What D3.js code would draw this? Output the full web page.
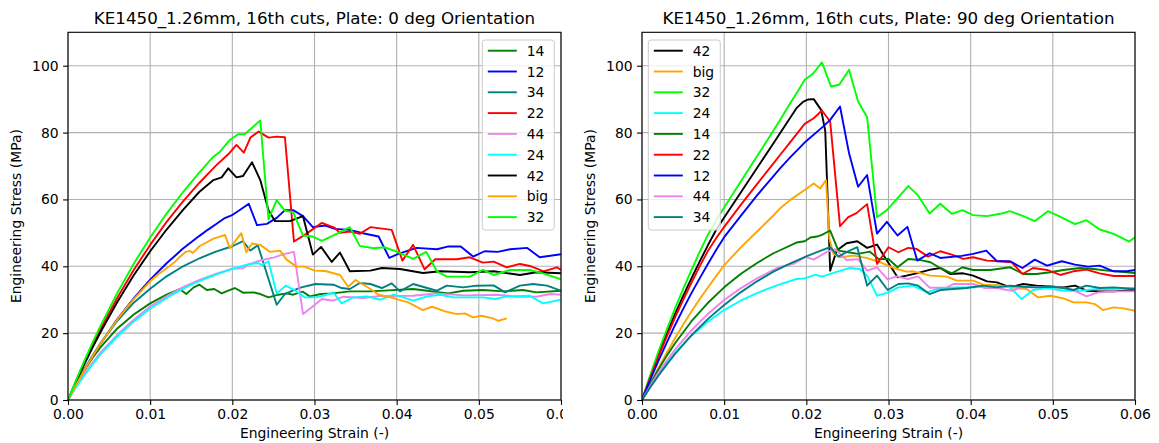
<!DOCTYPE html>
<html><head><meta charset="utf-8">
<script src="https://cdn.jsdelivr.net/npm/d3@7"></script>
<style>
html,body{margin:0;padding:0;background:#fff;}
svg{display:block;font-family:"DejaVu Sans",sans-serif;}
</style></head>
<body><svg id="chart" width="1159" height="443"></svg>
<script>
// ---------- tick values ----------
const strainTicks = [0, 0.01, 0.02, 0.03, 0.04, 0.05, 0.06];
const stressTicks = [0, 20, 40, 60, 80, 100];
const titles = ["KE1450_1.26mm, 16th cuts, Plate: 0 deg Orientation",
                "KE1450_1.26mm, 16th cuts, Plate: 90 deg Orientation"];
const xLabel = "Engineering Strain (-)";
const yLabel = "Engineering Stress (MPa)";

// ---------- LEFT panel (0 deg) series: [strain, stress] ----------
const L14 = [[0,0],[0.001,4.76],[0.002,8.96],[0.003,12.66],[0.004,15.9],[0.006,21.4],[0.008,25.6],[0.010,28.9],[0.012,31.5],[0.0136,33.2],[0.0144,31.7],[0.0153,33.7],[0.016,34.5],[0.0169,32.9],[0.0178,33.2],[0.0187,31.9],[0.0195,32.7],[0.0203,33.5],[0.0213,32.1],[0.0226,32.2],[0.0234,31.7],[0.0244,30.7],[0.0256,31.5],[0.0266,31.9],[0.0274,31.5],[0.0286,32.4],[0.0294,31.0],[0.0308,31.7],[0.0322,31.9],[0.0343,32.5],[0.0368,32.5],[0.039,32.8],[0.042,33.2],[0.0437,32.7],[0.0453,32.2],[0.0463,31.9],[0.0481,32.7],[0.0505,32.9],[0.053,32.5],[0.0554,32.9],[0.057,32.2],[0.06,32.7]];
const L12 = [[0,0],[0.001,4.63],[0.002,9.0],[0.003,13.1],[0.004,17.0],[0.006,24.2],[0.008,30.4],[0.010,36.0],[0.012,40.9],[0.014,45.3],[0.016,49.1],[0.017,50.9],[0.018,52.6],[0.019,54.3],[0.0199,55.2],[0.021,57.0],[0.022,58.7],[0.023,52.3],[0.0242,52.7],[0.0254,54.5],[0.0264,56.8],[0.0274,56.8],[0.0286,55.0],[0.0298,51.7],[0.0313,52.2],[0.0325,51.2],[0.0343,50.9],[0.0359,49.9],[0.0378,48.9],[0.0391,42.5],[0.0402,43.7],[0.0424,45.5],[0.0449,45.1],[0.0462,45.9],[0.0478,45.9],[0.0493,42.9],[0.0507,44.5],[0.0523,44.3],[0.0538,45.1],[0.0559,45.5],[0.0574,42.7],[0.06,43.6]];
const L34 = [[0,0],[0.001,4.85],[0.002,9.27],[0.003,13.3],[0.004,17.1],[0.006,23.7],[0.008,29.1],[0.010,33.3],[0.012,37.0],[0.014,40.0],[0.016,42.4],[0.018,44.4],[0.020,46.0],[0.0213,47.5],[0.0222,44.7],[0.0231,46.3],[0.0254,28.5],[0.0264,31.7],[0.0274,32.8],[0.0284,33.7],[0.0301,34.7],[0.0323,34.5],[0.0333,33.5],[0.0343,33.2],[0.0355,35.0],[0.0368,34.7],[0.0382,33.5],[0.0394,34.9],[0.0404,32.5],[0.042,34.7],[0.0437,33.5],[0.0449,32.7],[0.0461,34.2],[0.0481,33.7],[0.0497,34.2],[0.0518,34.3],[0.0532,32.2],[0.055,34.2],[0.0566,34.7],[0.0583,34.2],[0.06,32.7]];
const L22 = [[0,0],[0.001,5.76],[0.002,11.23],[0.003,16.45],[0.004,21.4],[0.006,30.6],[0.008,38.9],[0.010,46.4],[0.012,53.3],[0.014,59.4],[0.016,65.0],[0.018,70.1],[0.0195,73.5],[0.0205,76.3],[0.0214,74.0],[0.0222,78.5],[0.0232,80.3],[0.0244,78.5],[0.0254,78.8],[0.0264,78.6],[0.0275,47.4],[0.029,49.7],[0.0309,53.0],[0.0324,51.6],[0.0331,50.0],[0.0343,50.4],[0.0355,49.7],[0.0368,51.7],[0.0394,50.9],[0.0407,41.7],[0.042,46.4],[0.0434,39.1],[0.0447,42.1],[0.0473,42.1],[0.0489,42.7],[0.0505,41.1],[0.0518,41.4],[0.0534,39.7],[0.055,40.7],[0.0562,40.1],[0.0579,38.5],[0.0595,39.7],[0.06,38.9]];
const L44 = [[0,0],[0.001,4.08],[0.002,7.8],[0.003,11.2],[0.004,14.3],[0.006,19.5],[0.008,24.0],[0.010,28.0],[0.012,31.0],[0.014,33.8],[0.016,35.9],[0.018,37.7],[0.020,39.3],[0.0213,39.4],[0.022,40.6],[0.0235,41.8],[0.025,42.6],[0.0265,43.8],[0.0275,44.3],[0.0286,25.7],[0.0296,27.6],[0.0309,30.2],[0.0323,29.7],[0.0335,30.9],[0.0359,30.5],[0.038,31.1],[0.042,31.2],[0.0441,31.7],[0.0448,31.9],[0.0481,31.3],[0.0522,31.5],[0.0546,30.9],[0.057,30.9],[0.0587,31.7],[0.06,31.5]];
const L24 = [[0,0],[0.001,3.86],[0.002,7.4],[0.003,10.7],[0.004,13.8],[0.006,19.0],[0.008,23.5],[0.010,27.3],[0.012,30.5],[0.014,33.3],[0.016,35.6],[0.018,37.5],[0.020,39.2],[0.022,40.6],[0.0231,41.0],[0.0236,40.4],[0.0244,41.5],[0.0254,31.9],[0.0265,34.2],[0.0277,32.7],[0.0288,30.7],[0.0301,30.7],[0.0315,31.5],[0.0323,32.2],[0.0333,28.9],[0.0347,30.7],[0.0364,31.0],[0.038,30.0],[0.0396,31.5],[0.0408,30.7],[0.042,29.7],[0.0437,31.0],[0.0453,31.5],[0.0469,30.7],[0.0489,30.7],[0.0505,30.7],[0.052,30.2],[0.0534,31.0],[0.0562,31.2],[0.0578,28.9],[0.06,30.0]];
const L42 = [[0,0],[0.001,5.52],[0.002,10.76],[0.003,15.76],[0.004,20.5],[0.006,29.3],[0.008,37.3],[0.010,44.5],[0.012,51.0],[0.014,56.9],[0.016,62.3],[0.0177,65.8],[0.0187,66.6],[0.0195,69.3],[0.0205,66.6],[0.0213,67.0],[0.0224,71.1],[0.0234,65.8],[0.0244,56.8],[0.0252,53.5],[0.027,53.5],[0.0286,55.0],[0.0298,43.5],[0.0308,45.8],[0.0321,41.3],[0.0331,44.1],[0.0343,38.5],[0.0368,38.7],[0.0382,39.5],[0.0404,39.2],[0.0432,38.0],[0.0453,38.5],[0.0489,38.2],[0.0518,38.5],[0.055,37.4],[0.057,38.2],[0.06,37.9]];
const Lbig = [[0,0],[0.001,4.6],[0.002,9.0],[0.003,13.1],[0.004,17.0],[0.006,24.1],[0.008,30.2],[0.010,35.5],[0.011,37.6],[0.012,39.4],[0.013,41.3],[0.0136,42.8],[0.0143,44.3],[0.0148,44.6],[0.0152,44.0],[0.016,46.0],[0.0169,47.2],[0.0177,48.3],[0.0185,48.9],[0.0191,49.4],[0.0197,45.4],[0.0211,49.9],[0.0217,44.2],[0.0224,46.8],[0.0234,46.4],[0.0246,44.3],[0.0258,44.7],[0.0266,42.0],[0.0278,39.9],[0.0288,39.9],[0.030,38.7],[0.0313,38.6],[0.0331,37.4],[0.0341,33.9],[0.035,35.9],[0.0368,33.2],[0.0378,31.5],[0.0396,30.5],[0.0414,29.2],[0.0432,26.9],[0.0443,27.9],[0.0459,26.5],[0.0473,25.7],[0.0483,25.9],[0.0493,24.7],[0.0503,25.2],[0.0516,24.5],[0.0524,23.7],[0.0534,24.4]];
const L32 = [[0,0],[0.001,6.03],[0.002,11.76],[0.003,17.22],[0.004,22.41],[0.006,32.04],[0.008,40.75],[0.010,48.63],[0.012,55.77],[0.014,62.22],[0.016,68.07],[0.0177,72.8],[0.0185,74.3],[0.0197,77.8],[0.0207,79.5],[0.0215,79.5],[0.0234,83.6],[0.0244,54.0],[0.0254,59.8],[0.0264,56.6],[0.0274,56.2],[0.0286,49.2],[0.0298,48.9],[0.0309,47.6],[0.0322,49.1],[0.0343,51.7],[0.0355,46.1],[0.0372,45.4],[0.0385,45.7],[0.04,44.4],[0.042,42.2],[0.0436,44.3],[0.0449,38.5],[0.0461,36.9],[0.0489,36.9],[0.0505,38.9],[0.0518,37.4],[0.0538,38.9],[0.0562,38.9],[0.0578,37.9],[0.06,36.1]];

// ---------- RIGHT panel (90 deg) series ----------
const R42 = [[0,0],[0.001,7.0],[0.002,13.6],[0.003,19.8],[0.004,25.6],[0.005,31.1],[0.006,36.3],[0.007,41.3],[0.008,46.2],[0.009,50.8],[0.010,54.6],[0.012,62.0],[0.014,69.4],[0.016,76.8],[0.0168,79.8],[0.018,84.3],[0.0188,87.3],[0.0196,89.2],[0.0202,89.9],[0.0209,90.0],[0.0218,86.8],[0.0223,80.5],[0.0226,60.0],[0.0229,38.7],[0.0237,44.7],[0.0249,46.9],[0.0262,47.5],[0.0274,45.5],[0.0286,46.5],[0.0298,41.7],[0.0311,36.7],[0.0322,37.2],[0.0334,37.9],[0.0351,39.0],[0.0363,39.5],[0.0375,37.7],[0.0391,37.9],[0.0403,37.2],[0.042,35.5],[0.0432,35.2],[0.0448,33.7],[0.0464,34.7],[0.048,34.2],[0.0497,34.0],[0.0513,33.7],[0.0527,34.2],[0.0541,32.7],[0.0557,32.5],[0.0574,32.5],[0.06,33.0]];
const Rbig = [[0,0],[0.001,4.9],[0.002,9.6],[0.003,14.1],[0.004,18.4],[0.005,22.5],[0.006,26.4],[0.007,30.1],[0.008,33.6],[0.009,37.0],[0.010,40.3],[0.012,45.6],[0.014,50.4],[0.016,55.2],[0.0168,57.3],[0.018,59.8],[0.0198,62.8],[0.0209,64.8],[0.0217,63.3],[0.0224,65.8],[0.0228,48.3],[0.0233,43.7],[0.0241,42.7],[0.0257,43.2],[0.0273,42.5],[0.029,41.2],[0.0306,39.5],[0.0322,38.4],[0.033,38.5],[0.0351,37.2],[0.0371,36.9],[0.0383,35.7],[0.0403,35.7],[0.0415,34.5],[0.0432,34.4],[0.0448,33.7],[0.0468,33.2],[0.0482,30.7],[0.0497,31.2],[0.0513,30.4],[0.0525,29.2],[0.0541,29.2],[0.0551,28.7],[0.0561,26.9],[0.0574,27.7],[0.0586,27.4],[0.06,26.7]];
const R32 = [[0,0],[0.001,7.5],[0.002,14.5],[0.003,21.0],[0.004,27.3],[0.005,33.2],[0.006,38.8],[0.007,44.2],[0.008,49.3],[0.009,53.7],[0.010,57.6],[0.012,65.3],[0.014,72.9],[0.016,80.6],[0.0168,83.8],[0.018,88.6],[0.019,92.5],[0.0198,95.8],[0.0208,97.6],[0.0219,101.0],[0.023,93.8],[0.024,94.3],[0.0252,98.8],[0.0263,89.3],[0.0274,84.6],[0.0286,54.7],[0.0298,56.8],[0.031,60.1],[0.0324,64.0],[0.0336,61.2],[0.035,55.8],[0.0363,58.7],[0.0377,55.7],[0.039,56.8],[0.0403,55.3],[0.042,55.0],[0.0436,55.7],[0.0448,56.5],[0.0464,55.0],[0.0478,53.5],[0.0494,56.5],[0.051,54.7],[0.0527,52.6],[0.0541,53.8],[0.0557,51.0],[0.0574,49.7],[0.0593,47.4],[0.06,48.7]];
const R24 = [[0,0],[0.001,4.04],[0.002,7.7],[0.003,11.0],[0.004,14.0],[0.006,19.2],[0.008,23.4],[0.010,26.9],[0.012,29.7],[0.014,32.0],[0.016,33.9],[0.0168,34.6],[0.0188,36.2],[0.0198,36.4],[0.0211,37.5],[0.0219,36.9],[0.0231,37.9],[0.0253,39.5],[0.0265,39.2],[0.0274,37.2],[0.0286,31.2],[0.030,32.2],[0.0312,33.7],[0.033,34.2],[0.0347,32.2],[0.0359,33.2],[0.0379,33.7],[0.0403,33.7],[0.0427,34.2],[0.0448,33.7],[0.0462,30.2],[0.0476,32.9],[0.0493,33.5],[0.0513,32.7],[0.0533,32.7],[0.0553,33.2],[0.0574,33.2],[0.06,33.5]];
const R14 = [[0,0],[0.001,4.76],[0.002,9.15],[0.003,13.2],[0.004,16.9],[0.006,23.5],[0.008,29.0],[0.010,33.7],[0.012,37.7],[0.014,41.0],[0.016,43.9],[0.0168,44.8],[0.0188,47.1],[0.0198,47.5],[0.0205,48.6],[0.0213,48.9],[0.0219,49.4],[0.0229,50.7],[0.0239,44.7],[0.0251,44.2],[0.0263,43.7],[0.0277,44.4],[0.0288,42.2],[0.030,42.2],[0.0311,39.7],[0.0324,42.2],[0.0338,41.9],[0.0351,41.2],[0.0363,39.5],[0.0377,37.9],[0.039,39.7],[0.0403,38.9],[0.0424,38.9],[0.0448,39.7],[0.0464,37.7],[0.048,37.7],[0.0497,38.2],[0.0513,38.9],[0.0533,39.5],[0.055,39.2],[0.0566,38.7],[0.06,38.0]];
const R22 = [[0,0],[0.001,6.6],[0.002,12.9],[0.003,18.9],[0.004,24.6],[0.005,29.9],[0.006,35.0],[0.007,39.9],[0.008,44.5],[0.009,48.3],[0.010,51.8],[0.012,58.3],[0.014,64.6],[0.016,70.8],[0.0168,73.3],[0.018,77.0],[0.0198,82.6],[0.0209,84.3],[0.0219,86.6],[0.0229,83.3],[0.0241,52.0],[0.0251,54.7],[0.0261,55.9],[0.0274,58.6],[0.0286,40.7],[0.030,45.7],[0.0312,44.2],[0.0324,45.5],[0.0334,45.2],[0.0348,42.9],[0.0363,44.5],[0.0377,43.5],[0.0391,42.2],[0.0403,42.7],[0.042,41.7],[0.0436,41.5],[0.045,41.2],[0.0463,37.7],[0.0476,39.5],[0.0493,38.9],[0.0509,37.4],[0.0525,38.5],[0.0541,39.0],[0.0557,37.9],[0.0574,37.1],[0.06,37.1]];
const R12 = [[0,0],[0.001,6.0],[0.002,11.7],[0.003,17.1],[0.004,22.3],[0.005,27.2],[0.006,31.9],[0.007,36.3],[0.008,40.6],[0.009,44.8],[0.010,48.7],[0.012,55.0],[0.014,61.2],[0.016,67.0],[0.0168,69.3],[0.018,72.5],[0.020,77.5],[0.022,81.7],[0.0229,83.8],[0.0241,87.8],[0.0252,73.8],[0.0263,63.8],[0.0274,67.3],[0.0286,49.8],[0.0298,53.3],[0.0311,49.2],[0.0323,51.8],[0.0335,41.7],[0.035,43.9],[0.0363,42.5],[0.0389,43.1],[0.0403,43.7],[0.0419,44.7],[0.0432,41.5],[0.0448,41.5],[0.0463,39.5],[0.0478,42.0],[0.0493,40.2],[0.0511,41.5],[0.0527,40.5],[0.0543,39.9],[0.0557,40.2],[0.0574,38.5],[0.059,38.5],[0.06,38.9]];
const R44 = [[0,0],[0.001,4.23],[0.002,8.14],[0.003,11.7],[0.004,15.0],[0.006,20.8],[0.008,25.7],[0.010,29.9],[0.012,33.4],[0.014,36.4],[0.016,38.9],[0.0168,39.8],[0.0185,40.8],[0.0199,42.8],[0.0209,42.0],[0.0225,44.3],[0.0235,45.1],[0.0249,41.9],[0.0263,42.1],[0.0274,38.7],[0.0286,39.7],[0.0299,36.1],[0.031,37.0],[0.0324,36.2],[0.0336,37.0],[0.035,33.6],[0.0371,33.7],[0.0379,34.7],[0.0403,34.7],[0.0417,33.5],[0.0432,33.5],[0.0444,32.9],[0.0452,32.7],[0.046,33.7],[0.0476,33.7],[0.0493,33.9],[0.0509,33.7],[0.0525,32.9],[0.0541,31.0],[0.0555,32.2],[0.0574,32.5],[0.06,32.5]];
const R34 = [[0,0],[0.001,3.77],[0.002,7.29],[0.003,10.6],[0.004,13.7],[0.006,19.3],[0.008,24.2],[0.010,28.4],[0.012,32.2],[0.014,35.5],[0.016,38.4],[0.018,40.8],[0.020,43.0],[0.022,44.9],[0.0229,45.7],[0.0239,42.9],[0.0251,44.5],[0.0262,45.7],[0.0274,34.2],[0.0286,37.2],[0.0299,32.9],[0.0312,34.7],[0.0324,34.9],[0.0336,34.2],[0.035,31.7],[0.0363,32.9],[0.0379,33.2],[0.0395,33.5],[0.0415,34.2],[0.0432,33.7],[0.0448,34.2],[0.0464,33.9],[0.048,33.7],[0.0497,33.9],[0.0513,33.5],[0.0525,32.9],[0.0541,34.2],[0.0557,33.5],[0.0574,33.7],[0.06,33.2]];

// legend order = plotting order
const leftNames  = ["14","12","34","22","44","24","42","big","32"];
const leftData   = [L14, L12, L34, L22, L44, L24, L42, Lbig, L32];
const rightNames = ["42","big","32","24","14","22","12","44","34"];
const rightData  = [R42, Rbig, R32, R24, R14, R22, R12, R44, R34];
const colorOf = {"14":"#008000","12":"#0000ff","34":"#008080","22":"#ff0000","44":"#ee82ee",
                 "24":"#00ffff","42":"#000000","big":"#ffa500","32":"#00ff00"};

// ---------- drawing ----------
const svg = d3.select("#chart");
const defs = svg.append("defs");
const FS = 13.9;
const yTop = 32.3, yBot = 400;

function panel(idx, x0, x1, names, data, legendX, clipW) {
  const root = svg.append("g");
  if (clipW) {
    defs.append("clipPath").attr("id","pclip"+idx)
      .append("rect").attr("x",0).attr("y",0).attr("width",clipW).attr("height",443);
    root.attr("clip-path","url(#pclip"+idx+")");
  }
  const x = d3.scaleLinear().domain([0,0.06]).range([x0,x1]);
  const y = d3.scaleLinear().domain([0,110]).range([yBot, yTop]);

  // grid
  const grid = root.append("g").attr("stroke","#b0b0b0").attr("stroke-width",1.1);
  grid.selectAll("line.gx").data(strainTicks).join("line").attr("class","gx")
    .attr("x1",d=>x(d)).attr("x2",d=>x(d)).attr("y1",yTop).attr("y2",yBot);
  grid.selectAll("line.gy").data(stressTicks).join("line").attr("class","gy")
    .attr("x1",x0).attr("x2",x1).attr("y1",d=>y(d)).attr("y2",d=>y(d));

  // lines
  defs.append("clipPath").attr("id","aclip"+idx).append("rect")
    .attr("x",x0).attr("y",yTop).attr("width",x1-x0).attr("height",yBot-yTop);
  const line = d3.line().x(d=>x(d[0])).y(d=>y(d[1]));
  const lg = root.append("g").attr("clip-path","url(#aclip"+idx+")");
  names.forEach((n,i)=>{
    lg.append("path").attr("d",line(data[i])).attr("fill","none")
      .attr("stroke",colorOf[n]).attr("stroke-width",1.9)
      .attr("stroke-linejoin","round").attr("stroke-linecap","butt");
  });

  // axes
  const ax = root.append("g").attr("transform",`translate(0,${yBot})`)
    .call(d3.axisBottom(x).tickValues(strainTicks).tickFormat(d3.format(".2f"))
      .tickSizeInner(4.9).tickSizeOuter(0).tickPadding(4.5));
  const ay = root.append("g").attr("transform",`translate(${x0},0)`)
    .call(d3.axisLeft(y).tickValues(stressTicks).tickFormat(d3.format("d"))
      .tickSizeInner(4.9).tickSizeOuter(0).tickPadding(4.5));
  [ax,ay].forEach(a=>{
    a.select(".domain").remove();
    a.selectAll("text").attr("font-size",FS).attr("font-family","DejaVu Sans").attr("fill","#000");
    a.selectAll("line").attr("stroke","#000").attr("stroke-width",1.1);
  });
  // spines
  root.append("rect").attr("x",x0).attr("y",yTop).attr("width",x1-x0).attr("height",yBot-yTop)
    .attr("fill","none").attr("stroke","#000").attr("stroke-width",1.1);

  // title and labels
  root.append("text").attr("x",(x0+x1)/2).attr("y",24.2).attr("text-anchor","middle")
    .attr("font-size",16.7).text(titles[idx]);
  root.append("text").attr("x",(x0+x1)/2).attr("y",438).attr("text-anchor","middle")
    .attr("font-size",FS).text(xLabel);
  root.append("text").attr("transform",`translate(${x0-47},${(yTop+yBot)/2}) rotate(-90)`)
    .attr("text-anchor","middle").attr("font-size",FS).text(yLabel);

  // legend
  const lgx = legendX, lgy = 40, lw = 72, lh = 190;
  const leg = root.append("g");
  leg.append("rect").attr("x",lgx).attr("y",lgy).attr("width",lw).attr("height",lh)
    .attr("rx",2.8).attr("fill","#fff").attr("fill-opacity",0.8)
    .attr("stroke","#cccccc").attr("stroke-width",1);
  names.forEach((n,i)=>{
    const cy = 50.7 + i*20.8;
    leg.append("line").attr("x1",lgx+5.5).attr("x2",lgx+34.5).attr("y1",cy).attr("y2",cy)
      .attr("stroke",colorOf[n]).attr("stroke-width",1.9);
    leg.append("text").attr("x",lgx+44.4).attr("y",cy).attr("dy","0.36em")
      .attr("font-size",FS).text(n);
  });
}

panel(0, 68, 561, leftNames, leftData, 482.3, 563);
panel(1, 642, 1135, rightNames, rightData, 648.3, null);
</script>
</body></html>
